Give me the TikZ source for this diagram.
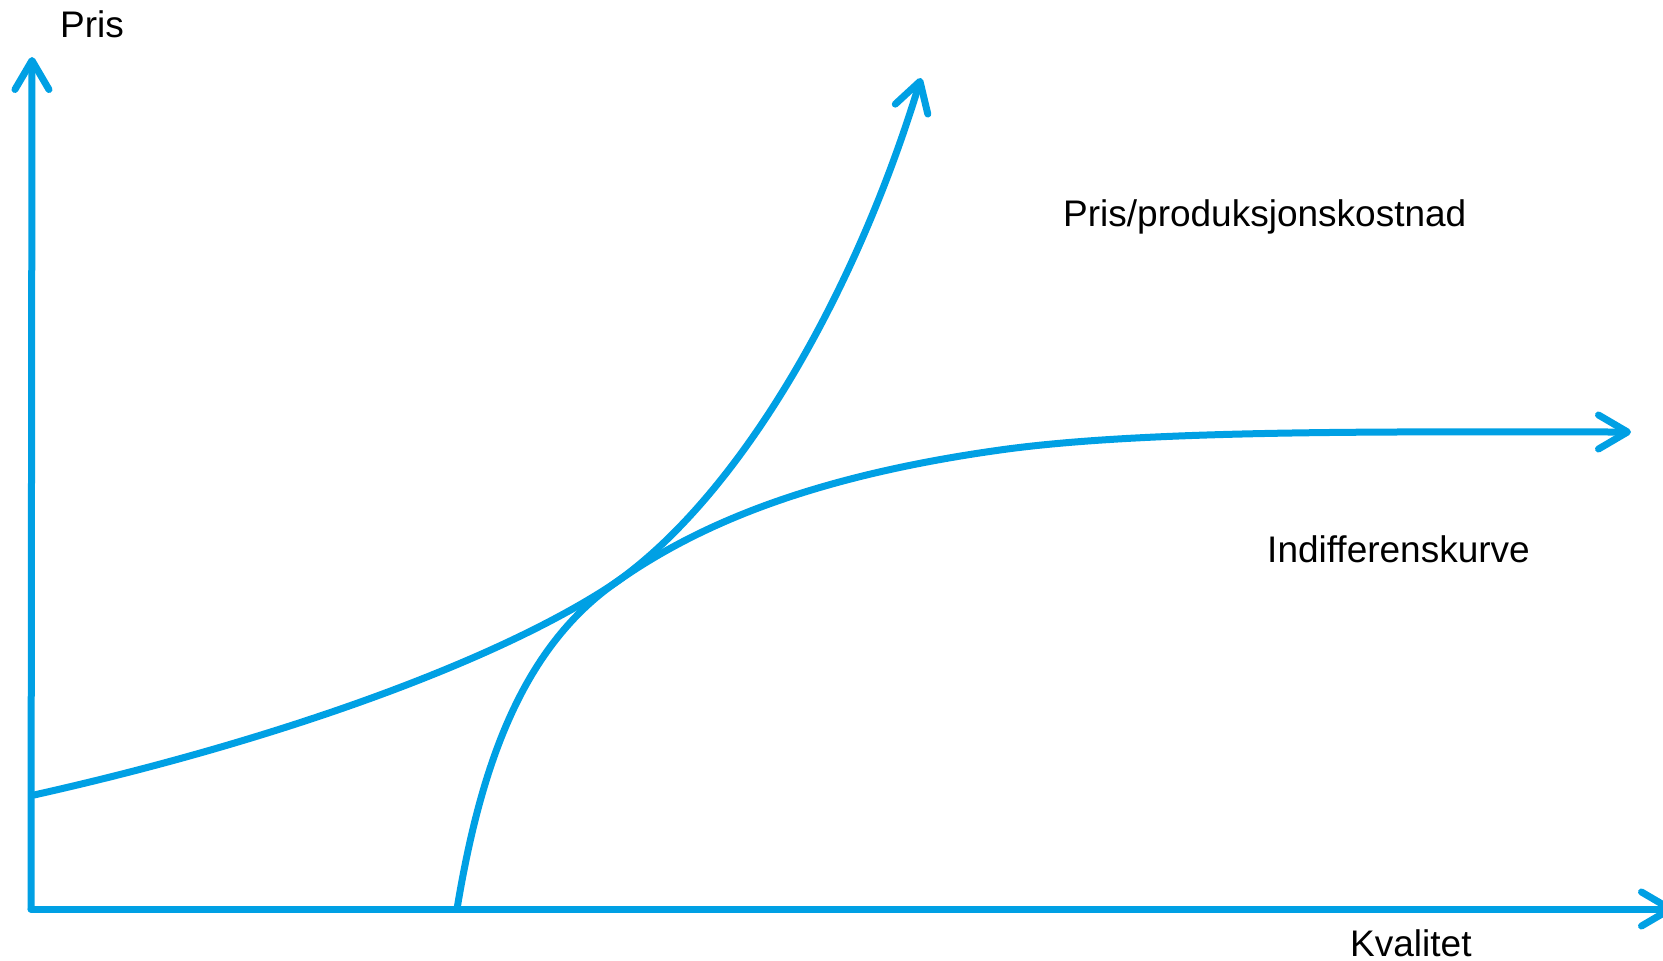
\documentclass[tikz,border=0pt]{standalone}
\usepackage{fontspec}
\setmainfont{Liberation Sans}
\usetikzlibrary{arrows.meta}
\definecolor{curveblue}{RGB}{0,160,228}
\begin{document}
\begin{tikzpicture}[x=1pt,y=-1pt,
  curve/.style={draw=curveblue, line width=7pt, line cap=round, line join=round},
  tip/.style={-{Straight Barb[length=29pt,width=34pt,round]}},
  lbl/.style={font=\fontsize{37}{40}\selectfont, anchor=base west, inner sep=0pt}]
\useasboundingbox (0,0) rectangle (1663,961);
% axes
\coordinate (O) at (31,909);
\coordinate (Ytop) at (32,57);
\coordinate (Xend) at (1674,909);
\draw[curve,tip] (O) -- (Ytop);
\draw[curve,tip] (O) -- (Xend);
% indifference curve
\coordinate (I0) at (34,795);
\coordinate (I1) at (615,583);
\coordinate (I2) at (1000,450);
\coordinate (I3) at (1631,432);
\draw[curve,tip] (I0) .. controls (280,740) and (500,660) .. (I1)
  .. controls (690,530) and (800,478) .. (I2)
  .. controls (1150,429) and (1400,432) .. (I3);
% production cost curve
\coordinate (P0) at (457,909);
\coordinate (P1) at (615,583);
\coordinate (P2) at (921,78);
\draw[curve,tip] (P0) .. controls (480,770) and (520,650) .. (P1)
  .. controls (740,495) and (855,295) .. (P2);
% labels
\node[lbl] (lpris) at (60,37) {Pris};
\node[lbl] (lprod) at (1063,226) {Pris/produksjonskostnad};
\node[lbl] (lind) at (1267,562) {Indifferenskurve};
\node[lbl] (lkval) at (1350,956) {Kvalitet};
\end{tikzpicture}
\end{document}
